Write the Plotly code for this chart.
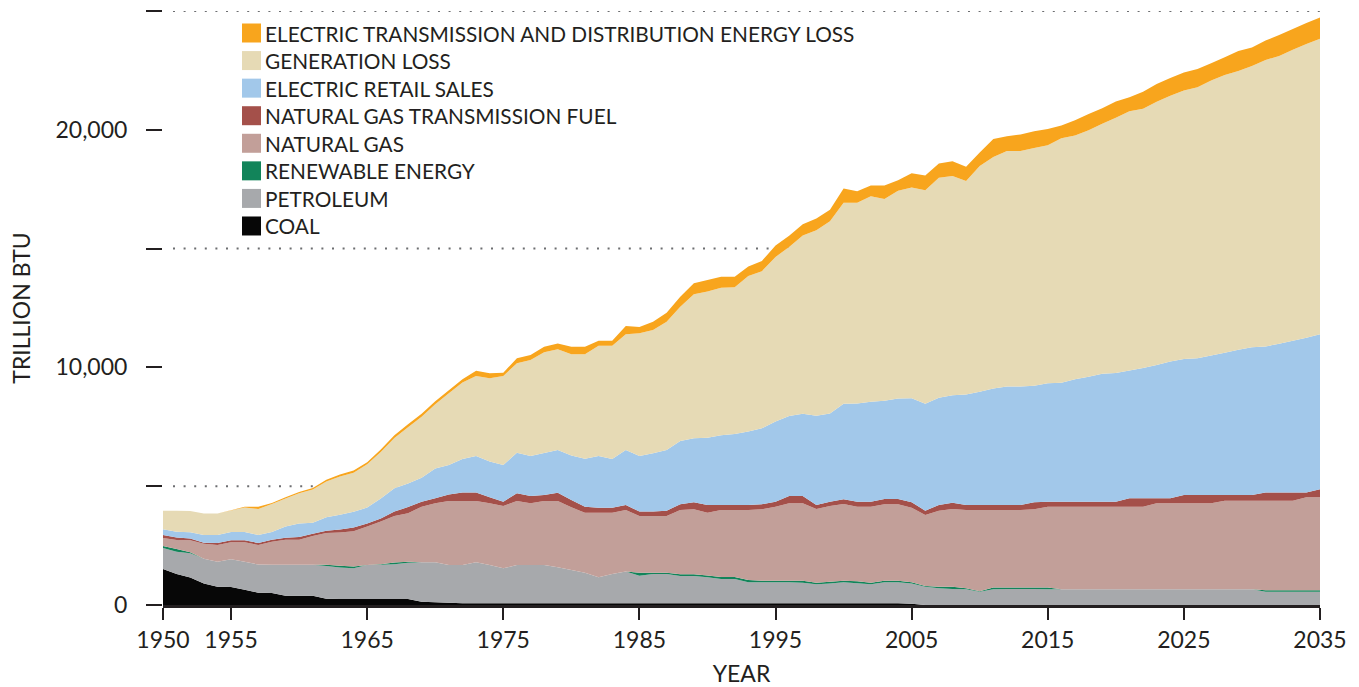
import plotly.graph_objects as go

years = list(range(1950, 2036))

coal = [1515, 1300, 1160, 910, 770, 760, 645, 520, 500, 390,
        385, 385, 260, 250, 250, 250, 250, 250, 250, 140,
        120, 90, 70, 70, 70, 70, 70, 70, 70, 70,
        70, 70, 70, 70, 70, 70, 70, 70, 70, 70,
        70, 70, 70, 70, 70, 70, 70, 70, 70, 70,
        70, 70, 70, 70, 70, 50, 0, 0, 0, 0,
        0, 0, 0, 0, 0, 0, 0, 0, 0, 0,
        0, 0, 0, 0, 0, 0, 0, 0, 0, 0,
        0, 0, 0, 0, 0, 0]

petroleum = [885, 940, 1015, 1040, 1055, 1170, 1180, 1180, 1190, 1300,
             1305, 1305, 1380, 1330, 1295, 1430, 1440, 1470, 1530, 1660,
             1680, 1595, 1615, 1725, 1615, 1475, 1615, 1615, 1615, 1515,
             1405, 1290, 1095, 1235, 1335, 1165, 1235, 1230, 1150, 1150,
             1095, 1025, 1025, 890, 885, 885, 885, 870, 800, 830,
             885, 850, 800, 885, 885, 860, 770, 700, 675, 660,
             560, 660, 675, 675, 675, 660, 660, 660, 660, 660,
             660, 660, 660, 660, 660, 660, 660, 660, 660, 660,
             660, 560, 560, 560, 560, 560]

renewable = [80, 120, 45, 0, 0, 0, 0, 0, 0, 0,
             0, 0, 50, 70, 75, 0, 30, 70, 40, 0,
             0, 0, 0, 0, 0, 0, 0, 0, 0, 0,
             0, 0, 0, 0, 0, 125, 55, 60, 70, 70,
             80, 85, 85, 90, 70, 70, 70, 85, 70, 80,
             70, 80, 70, 70, 70, 50, 30, 70, 95, 40,
             20, 80, 65, 65, 65, 80, 0, 0, 0, 0,
             0, 0, 0, 0, 0, 0, 0, 0, 0, 0,
             0, 60, 60, 60, 60, 60]

natural_gas = [340, 380, 500, 630, 700, 710, 815, 825, 975, 1060,
               1060, 1210, 1340, 1400, 1480, 1620, 1790, 1955, 2040, 2340,
               2480, 2695, 2695, 2585, 2595, 2620, 2695, 2595, 2695, 2795,
               2635, 2525, 2720, 2580, 2595, 2385, 2385, 2385, 2710, 2735,
               2640, 2820, 2820, 2950, 3000, 3115, 3255, 3255, 3100, 3185,
               3225, 3140, 3200, 3215, 3215, 3135, 2990, 3200, 3270, 3300,
               3420, 3260, 3260, 3260, 3285, 3400, 3480, 3480, 3480, 3480,
               3480, 3480, 3480, 3620, 3620, 3620, 3620, 3620, 3730, 3730,
               3730, 3770, 3770, 3770, 3910, 3910]

ng_transmission_fuel = [125, 100, 80, 40, 85, 80, 80, 85, 85, 85,
                        110, 100, 100, 130, 160, 130, 130, 185, 260, 210,
                        210, 270, 360, 360, 250, 185, 320, 310, 250, 340,
                        310, 255, 210, 210, 210, 185, 185, 225, 240, 295,
                        325, 210, 210, 210, 215, 210, 310, 310, 170, 185,
                        200, 210, 210, 220, 220, 225, 180, 240, 265, 210,
                        210, 210, 210, 210, 295, 210, 210, 210, 210, 210,
                        210, 350, 350, 210, 210, 350, 350, 350, 240, 240,
                        240, 350, 350, 350, 210, 340]

retail_sales = [240, 245, 260, 325, 335, 350, 350, 335, 320, 465,
                575, 460, 560, 620, 660, 670, 840, 980, 990, 1010,
                1260, 1240, 1410, 1530, 1505, 1540, 1710, 1680, 1770, 1805,
                1870, 2020, 2175, 2050, 2315, 2340, 2455, 2555, 2660, 2695,
                2830, 2930, 2990, 3090, 3195, 3370, 3365, 3460, 3750, 3715,
                4020, 4130, 4205, 4135, 4230, 4385, 4500, 4510, 4525, 4650,
                4760, 4900, 4990, 4990, 4910, 4985, 5000, 5150, 5260, 5380,
                5410, 5375, 5490, 5610, 5760, 5720, 5750, 5870, 5990, 6110,
                6220, 6140, 6260, 6380, 6510, 6530]

generation_loss = [785, 885, 900, 905, 905, 910, 1030, 1095, 1180, 1180,
                   1265, 1400, 1510, 1610, 1650, 1820, 1960, 2120, 2370, 2565,
                   2700, 3020, 3210, 3370, 3505, 3750, 3760, 4040, 4240, 4235,
                   4260, 4390, 4645, 4770, 4865, 5165, 5190, 5400, 5655, 6060,
                   6150, 6215, 6170, 6550, 6615, 6930, 7110, 7500, 7810, 8090,
                   8460, 8450, 8650, 8490, 8740, 8870, 8990, 9260, 9230, 8990,
                   9510, 9750, 9910, 9910, 10000, 10020, 10290, 10260, 10370, 10520,
                   10750, 10920, 10910, 11080, 11180, 11300, 11410, 11570, 11690, 11740,
                   11840, 12060, 12110, 12250, 12360, 12430]

td_loss = [0, 0, 0, 0, 0, 10, 30, 100, 40, 50,
           60, 60, 70, 80, 90, 90, 100, 110, 130, 125,
           130, 130, 140, 220, 210, 140, 210, 210, 230, 250,
           320, 320, 210, 210, 350, 265, 350, 380, 420, 465,
           490, 465, 450, 400, 430, 480, 480, 480, 500, 480,
           600, 480, 450, 570, 450, 600, 620, 600, 620, 600,
           560, 750, 620, 690, 710, 680, 540, 645, 680, 660,
           680, 585, 710, 745, 745, 760, 770, 730, 745, 840,
           770, 815, 885, 870, 885, 900]

series_names = ["COAL", "PETROLEUM", "RENEWABLE ENERGY", "NATURAL GAS",
                "NATURAL GAS TRANSMISSION FUEL", "ELECTRIC RETAIL SALES",
                "GENERATION LOSS", "ELECTRIC TRANSMISSION AND DISTRIBUTION ENERGY LOSS"]
series_values = [coal, petroleum, renewable, natural_gas, ng_transmission_fuel,
                 retail_sales, generation_loss, td_loss]
series_colors = ["#070707", "#a7a9ac", "#12845a", "#c29f99",
                 "#a4504a", "#a2c8ea", "#e6dab5", "#f8a51d"]

x_tick_vals = [1950, 1955, 1965, 1975, 1985, 1995, 2005, 2015, 2025, 2035]
x_tick_text = ["1950", "1955", "1965", "1975", "1985", "1995", "2005", "2015", "2025", "2035"]
y_tick_vals = [0, 5000, 10000, 15000, 20000, 25000]
y_tick_text = ["0", "", "10,000", "", "20,000", ""]
dotted_levels = [5000, 15000, 25000]

TEXT = "#231f20"

# figure geometry (pixels)
W, H = 1359, 687
ML, MR, MT, MB = 163, 39, 11, 82
PW, PH = W - ML - MR, H - MT - MB

fig = go.Figure()
for name, vals, col in zip(series_names, series_values, series_colors):
    fig.add_trace(go.Scatter(x=years, y=vals, name=name, stackgroup="energy",
                             mode="none", fillcolor=col, line=dict(width=0),
                             showlegend=False, hoverinfo="skip"))

for lvl in dotted_levels:
    fig.add_shape(type="line", xref="paper", yref="y", x0=10 / PW, x1=1 + 3 / PW,
                  y0=lvl, y1=lvl, layer="below",
                  line=dict(color="#6d6e71", width=2, dash="2px,8.6px"))

# legend (top-left, listed top to bottom from the highest layer down)
LEG_SQ_X, LEG_SQ = 242, 19
LEG_TEXT_X = 264
LEG_Y0, LEG_DY = 33, 27.57
for i, (name, col) in enumerate(reversed(list(zip(series_names, series_colors)))):
    cy = LEG_Y0 + i * LEG_DY
    fig.add_shape(type="rect", xref="paper", yref="paper", layer="above",
                  x0=(LEG_SQ_X - ML) / PW, x1=(LEG_SQ_X + LEG_SQ - ML) / PW,
                  y0=(H - MB - (cy + LEG_SQ / 2)) / PH, y1=(H - MB - (cy - LEG_SQ / 2)) / PH,
                  line=dict(width=0), fillcolor=col)
    fig.add_annotation(xref="paper", yref="paper", x=(LEG_TEXT_X - ML) / PW,
                       y=(H - MB - cy) / PH, xanchor="left", yanchor="middle",
                       text=name, showarrow=False, borderpad=0,
                       font=dict(size=20.8, color=TEXT))

fig.update_layout(
    width=W, height=H,
    margin=dict(l=ML, r=MR, t=MT, b=MB, autoexpand=False),
    paper_bgcolor="white", plot_bgcolor="white",
    font=dict(family="Lato, Arial, sans-serif", color=TEXT),
    hovermode=False,
    showlegend=False,
    xaxis=dict(range=[1950, 2035], tickvals=x_tick_vals, ticktext=x_tick_text,
               automargin=False,
               ticks="outside", ticklen=12, tickwidth=1.5, tickcolor=TEXT,
               showline=True, linecolor=TEXT, linewidth=2.5,
               showgrid=False, zeroline=False,
               tickfont=dict(size=23, color=TEXT), ticklabelstandoff=1,
               title=dict(text="YEAR", font=dict(size=23, color=TEXT), standoff=15)),
    yaxis=dict(range=[0, 25000], tickvals=y_tick_vals, ticktext=y_tick_text,
               automargin=False,
               ticks="outside", ticklen=16, tickwidth=1.8, tickcolor=TEXT,
               showline=False, showgrid=False, zeroline=False,
               tickfont=dict(size=23, color=TEXT), ticklabelstandoff=14,
               title=dict(text="TRILLION BTU", font=dict(size=23, color=TEXT), standoff=18)),
)

fig.write_html("out.html", config={"displayModeBar": False},
               post_script="document.body.style.margin='0px';")
